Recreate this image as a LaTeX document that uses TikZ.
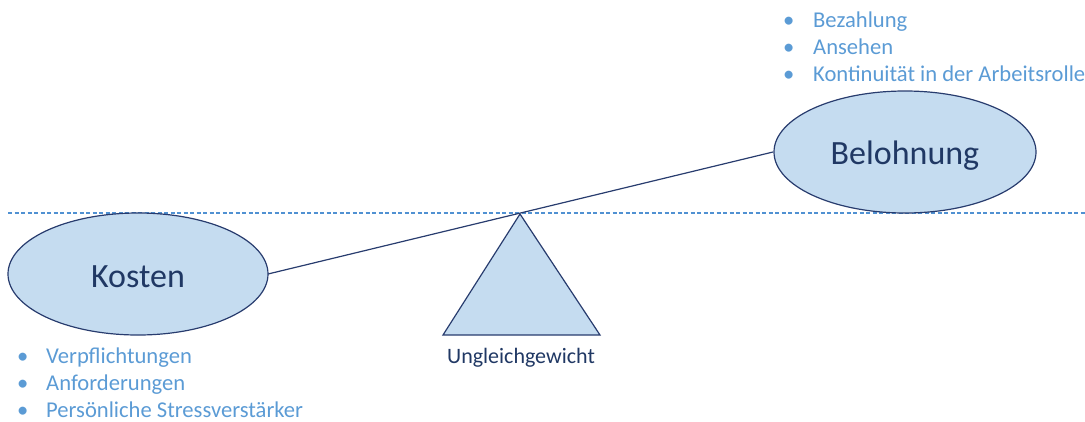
\documentclass[tikz,border=0pt]{standalone}
\usepackage{fontspec}
\setmainfont{Carlito}
\definecolor{fillblue}{RGB}{197,220,240}
\definecolor{navy}{RGB}{32,56,100}
\definecolor{edge}{RGB}{40,60,110}
\definecolor{listblue}{RGB}{91,155,213}
\definecolor{dashblue}{RGB}{80,145,210}
\begin{document}
\begin{tikzpicture}[x=1pt,y=-1pt,
  listitem/.style={anchor=base west, inner sep=0, text=listblue, font=\fontsize{22.6}{27}\selectfont},
  bigtext/.style={anchor=base, inner sep=0, text=navy, font=\fontsize{34}{40}\selectfont}]
\useasboundingbox (0,0) rectangle (1085,421);
\draw[dashblue, line width=1.2pt, dash pattern=on 4pt off 2.5pt] (8,213) -- (1085,213);
\draw[edge, line width=1.2pt, fill=fillblue, line join=miter] (520,214) -- (600,335) -- (443,335) -- cycle;
\coordinate (apex) at (520,214);
\draw[edge, line width=1.2pt] (268,274) -- (773,152);
\draw[edge, line width=1.2pt, fill=fillblue] (138,274) ellipse [x radius=130, y radius=61];
\draw[edge, line width=1.2pt, fill=fillblue] (905,152) ellipse [x radius=131, y radius=61];
\node[bigtext] (kosten) at (138,287) {Kosten};
\node[bigtext] (belohnung) at (905,164) {Belohnung};
\node[anchor=base, inner sep=0, text=navy, font=\fontsize{22}{27}\selectfont] (ungl) at (521,363) {Ungleichgewicht};
\node[listitem] (r1) at (783,27) {\makebox[30pt][l]{•}Bezahlung};
\node[listitem] (r2) at (783,54) {\makebox[30pt][l]{•}Ansehen};
\node[listitem] (r3) at (783,81) {\makebox[30pt][l]{•}Kontinuität in der Arbeitsrolle};
\node[listitem] (k1) at (17,363) {\makebox[29pt][l]{•}Verpflichtungen};
\node[listitem] (k2) at (17,390) {\makebox[29pt][l]{•}Anforderungen};
\node[listitem] (k3) at (17,417) {\makebox[29pt][l]{•}Persönliche Stressverstärker};
\end{tikzpicture}
\end{document}
